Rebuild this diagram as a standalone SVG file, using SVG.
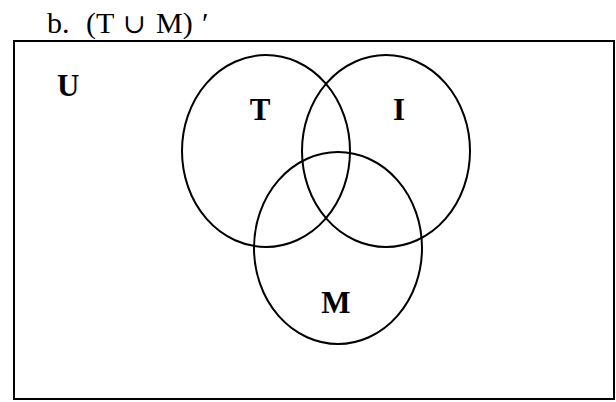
<svg xmlns="http://www.w3.org/2000/svg" width="616" height="402" viewBox="0 0 616 402">
<style>
.c{fill:none;stroke:#000;stroke-width:2}
.lbl{font-family:"Liberation Serif",serif;font-weight:bold;font-size:31px;fill:#000}
.t{font-family:"Liberation Serif",serif;font-size:30px;fill:#000}
</style>
<rect width="616" height="402" fill="#fff"/>
<text class="t" y="33"><tspan x="47">b.</tspan><tspan x="86">(T</tspan><tspan x="123" font-family="'DejaVu Serif',serif" font-size="27">∪</tspan><tspan x="156">M)</tspan><tspan x="202">′</tspan></text>
<g id="universe"><rect class="c" x="14" y="41" width="600" height="358"/><text class="lbl" x="57" y="96">U</text></g>
<g id="T"><ellipse class="c" cx="266" cy="151" rx="84" ry="96"/><text class="lbl" x="260" y="120" text-anchor="middle">T</text></g>
<g id="I"><ellipse class="c" cx="386" cy="151" rx="84" ry="96"/><text class="lbl" x="399" y="120" text-anchor="middle">I</text></g>
<g id="M"><ellipse class="c" cx="338" cy="248" rx="84" ry="96"/><text class="lbl" x="336" y="313" text-anchor="middle">M</text></g>
<g id="connectors"/>
</svg>
